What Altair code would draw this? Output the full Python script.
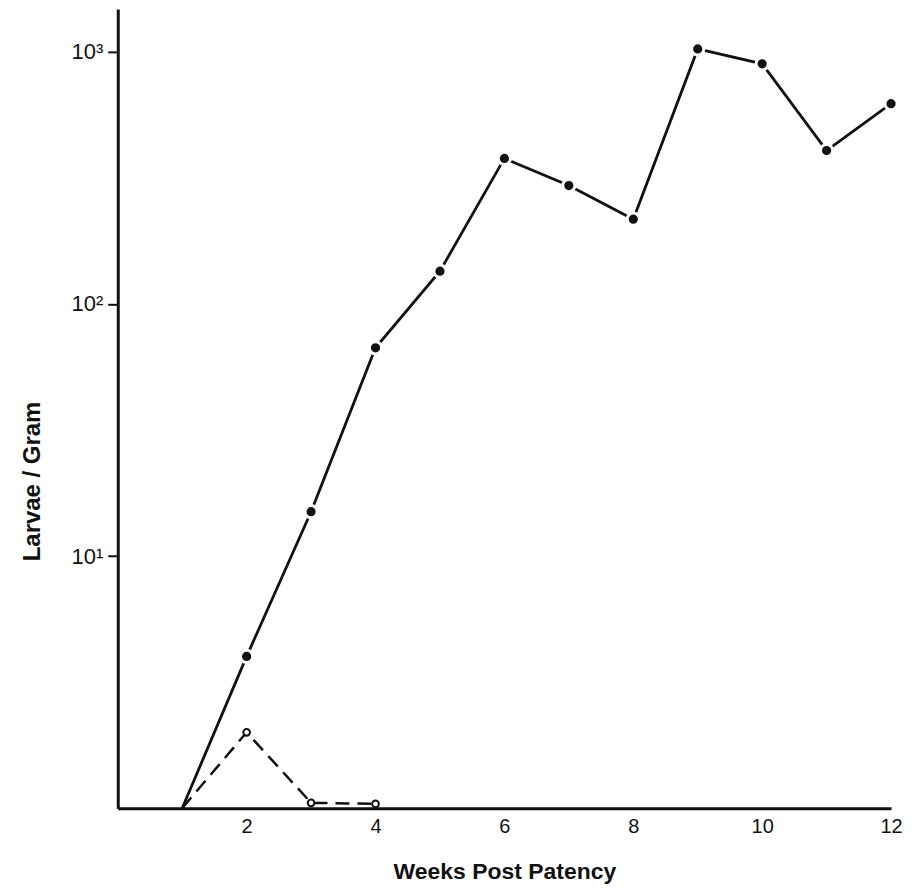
import altair as alt
import pandas as pd

# Filled-circle series (solid line)
weeks_a = [1, 2, 3, 4, 5, 6, 7, 8, 9, 10, 11, 12]
larvae_a = [1, 4.0, 15, 67, 135, 378, 295, 217, 1027, 897, 406, 623]

# Open-circle series (dashed line)
weeks_b = [1, 2, 3, 4]
larvae_b = [1, 2.0, 1.05, 1.04]

x_ticks = [2, 4, 6, 8, 10, 12]
y_ticks = [10, 100, 1000]

df_a = pd.DataFrame({"week": weeks_a, "larvae": larvae_a})
df_b = pd.DataFrame({"week": weeks_b, "larvae": larvae_b})

FONT = "Liberation Sans"

x_enc = alt.X(
    "week:Q",
    scale=alt.Scale(domain=[0, 12], nice=False, zero=False),
    axis=alt.Axis(
        values=x_ticks,
        format="d",
        title="Weeks Post Patency",
        grid=False,
        ticks=False,
        domainWidth=3,
        domainColor="#111",
        labelFontSize=20,
        labelFont=FONT,
        labelColor="#111",
        labelPadding=8,
        labelFlush=False,
        titleFont=FONT,
        titleFontSize=23,
        titleFontWeight="bold",
        titleColor="#111",
        titleY=63,
        titleBaseline="middle",
    ),
)

y_enc = alt.Y(
    "larvae:Q",
    scale=alt.Scale(type="log", domain=[1, 1480], nice=False),
    axis=alt.Axis(
        values=y_ticks,
        labelExpr="datum.value == 1000 ? '10³' : datum.value == 100 ? '10²' : '10¹'",
        title="Larvae / Gram",
        grid=False,
        tickSize=10,
        tickWidth=2,
        tickColor="#111",
        domainWidth=3,
        domainColor="#111",
        labelFontSize=22,
        labelFont=FONT,
        labelColor="#111",
        labelPadding=5,
        titleFont=FONT,
        titleFontSize=24,
        titleFontWeight="bold",
        titleColor="#111",
        titleAngle=-90,
        titleAlign="center",
        titleBaseline="middle",
        titleX=-85,
        titleY=473,
    ),
)

line_a = alt.Chart(df_a).mark_line(color="#111", strokeWidth=2.8).encode(x=x_enc, y=y_enc)
pts_a = alt.Chart(df_a).transform_filter("datum.week > 1").mark_point(
    shape="circle", filled=True, fill="#111", stroke="white", strokeWidth=3, size=150, opacity=1
).encode(x="week:Q", y="larvae:Q")

line_b = alt.Chart(df_b).mark_line(color="#111", strokeWidth=2.5, strokeDash=[14, 8]).encode(x="week:Q", y="larvae:Q")
pts_b = alt.Chart(df_b).transform_filter("datum.week > 1").mark_point(
    shape="circle", filled=False, fill="white", stroke="#111", strokeWidth=2, size=45, opacity=1
).encode(x="week:Q", y="larvae:Q")

chart = (
    alt.layer(line_a, line_b, pts_a, pts_b)
    .properties(
        width=775,
        height=801,
        background="white",
        autosize=alt.AutoSizeParams(type="none"),
        padding={"left": 110, "top": 0, "right": 18, "bottom": 76},
    )
    .configure_view(strokeWidth=0, stroke="transparent")
)

chart.save("out.html", embed_options={"renderer": "svg", "actions": False})
